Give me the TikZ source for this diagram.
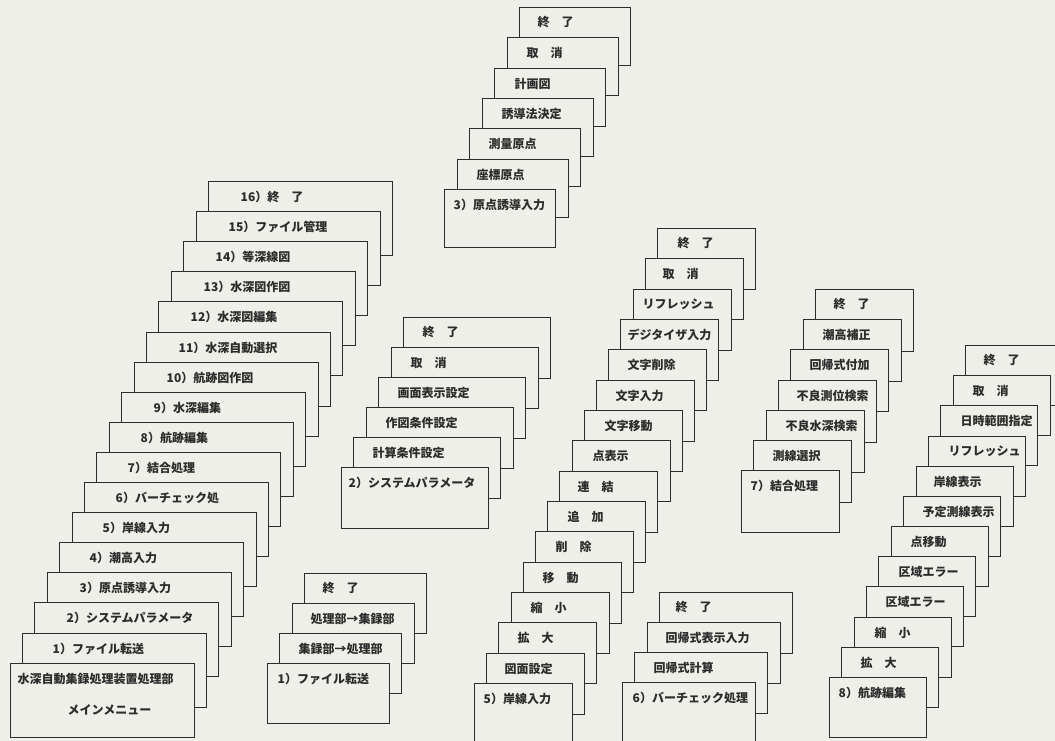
\documentclass[tikz,border=0pt]{standalone}
\usepackage{fontspec}
\usetikzlibrary{calc}
\newfontfamily\cjk{Noto Sans CJK JP}
\definecolor{paper}{HTML}{EFEFE9}
\definecolor{ink}{HTML}{2C2C2C}
\tikzset{
  card/.style={draw=ink, fill=paper, line width=1.2pt, inner sep=0pt, outer sep=0pt, anchor=north west},
  lbl/.style={anchor=west, inner sep=0pt, text=ink, font=\cjk\bfseries\fontsize{12}{14}\selectfont},
}
% #1 name, #2 x of back card, #3 y of back card, #4 dx, #5 dy, #6 width, #7 height, #8 list offset/label (back to front)
\newcommand\cardstack[8]{%
  \foreach \off/\txt [count=\i from 0] in {#8}{%
    \node[card, minimum width=#6pt, minimum height=#7pt] (#1-\i) at ({round(#2-#4*\i)+0.5},{round(#3+#5*\i)+0.5}) {};
    \node[lbl] (#1-\i-t) at ($(#1-\i.north west)+(\off,15)$) {\txt};
  }%
}
\begin{document}
\begin{tikzpicture}[x=1pt,y=-1pt]
\fill[paper] (0,0) rectangle (1055,741);
\useasboundingbox (0,0) rectangle (1055,741);
\clip (0,0) rectangle (1055,741);

% main menu stack
\cardstack{main}{208}{181}{12.4}{30.1}{184}{74}{32/16）終　了,32/15）ファイル管理,32/14）等深線図,32/13）水深図作図,32/12）水深図編集,32/11）水深自動選択,32/10）航跡図作図,32/9）水深編集,31/8）航跡編集,31/7）結合処理,31/6）バーチェック処,30/5）岸線入力,30/4）潮高入力,32/3）原点誘導入力,32/2）システムパラメータ,30/1）ファイル転送,7/水深自動集録処理装置処理部}
\node[lbl] (main-menu) at ($(main-16.north west)+(57,46)$) {メインメニュー};

% 1) file transfer
\cardstack{ft}{304}{573}{12.4}{30}{122}{60}{18/終　了,18/処理部→集録部,19/集録部→処理部,10/1）ファイル転送}

% 2) system parameter
\cardstack{sp}{403}{317}{12.4}{30}{147}{61}{19/終　了,19/取　消,19/画面表示設定,19/作図条件設定,19/計算条件設定,7/2）システムパラメータ}

% 3) origin guidance input
\cardstack{og}{519}{7}{12.5}{30.3}{111}{58}{18/終　了,19/取　消,20/計画図,19/誘導法決定,19/測量原点,19/座標原点,9/3）原点誘導入力}

% 5) shoreline input
\cardstack{sl}{657}{228}{12.2}{30.33}{98}{61}{20/終　了,17/取　消,9/リフレッシュ,7/デジタイザ入力,19/文字削除,19/文字入力,20/文字移動,20/点表示,18/連　結,20/追　加,20/削　除,19/移　動,19/縮　小,19/拡　大,18/図面設定,9/5）岸線入力}

% 6) bar check
\cardstack{bc}{659}{592}{12.3}{30}{133}{61}{16/終　了,18/回帰式表示入力,19/回帰式計算,10/6）バーチェック処理}

% 7) combine processing
\cardstack{cp}{815}{289}{12.3}{30.17}{98}{62}{18/終　了,19/潮高補正,19/回帰式付加,18/不良測位検索,19/不良水深検索,19/測線選択,9/7）結合処理}

% 8) track editing
\cardstack{te}{965}{345}{12.36}{30.18}{97}{60}{18/終　了,19/取　消,20/日時範囲指定,20/リフレッシュ,17/岸線表示,19/予定測線表示,19/点移動,20/区域エラー,19/区域エラー,20/縮　小,19/拡　大,9/8）航跡編集}
\end{tikzpicture}
\end{document}
